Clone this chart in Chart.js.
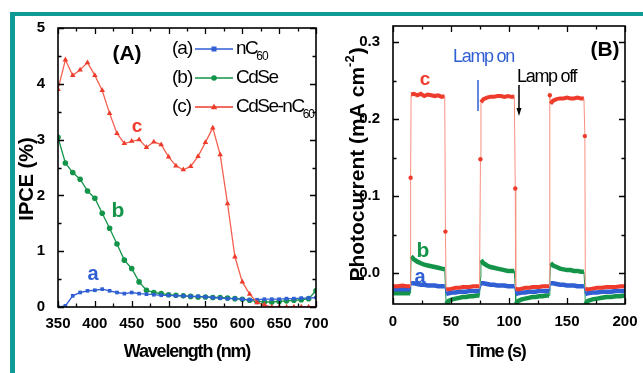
<!DOCTYPE html>
<html lang="en">
<head>
<meta charset="UTF-8">
<title>IPCE and photocurrent</title>
<script src="https://cdn.jsdelivr.net/npm/chart.js"></script>
<style>
  body { margin: 0; background: #fff; }
  .wrap { position: relative; width: 643px; height: 373px; overflow: hidden; background: #fff; }
  .frameTop { position: absolute; left: 10px; top: 12px; width: 633px; height: 4px; background: #0f9b95; }
  .frameLeft { position: absolute; left: 10px; top: 12px; width: 5px; height: 361px; background: #0f9b95; }
  #chartA { position: absolute; left: 0; top: 0; }
  #chartB { position: absolute; left: 322px; top: 0; }
</style>
</head>
<body>
<div class="wrap">
  <div class="frameTop"></div>
  <div class="frameLeft"></div>
  <canvas id="chartA" width="330" height="373"></canvas>
  <canvas id="chartB" width="321" height="373"></canvas>
</div>

<script>
// (A) IPCE vs wavelength
const wavelength = [350, 360, 370, 380, 390, 400, 410, 420, 430, 440, 450, 460,
  470, 480, 490, 500, 510, 520, 530, 540, 550, 560, 570, 580, 590, 600,
  610, 620, 630, 640, 650, 660, 670, 680, 690, 700];
const ipceA = [0.0, 0.02, 0.2, 0.26, 0.29, 0.30, 0.32, 0.29, 0.26, 0.24, 0.26, 0.24,
  0.23, 0.22, 0.21, 0.21, 0.20, 0.20, 0.19, 0.19, 0.18, 0.17, 0.16, 0.15, 0.15, 0.14,
  0.13, 0.13, 0.14, 0.14, 0.14, 0.15, 0.15, 0.16, 0.16, 0.17];
const ipceB = [3.04, 2.58, 2.41, 2.29, 2.08, 1.95, 1.68, 1.41, 1.13, 0.84, 0.69, 0.45,
  0.30, 0.26, 0.24, 0.22, 0.21, 0.20, 0.19, 0.18, 0.18, 0.17, 0.17, 0.16, 0.15, 0.14,
  0.12, 0.10, 0.09, 0.09, 0.10, 0.11, 0.12, 0.13, 0.15, 0.29];
const ipceC = [3.9, 4.43, 4.15, 4.25, 4.38, 4.15, 3.88, 3.47, 3.11, 2.93, 2.97, 3.0,
  2.86, 2.96, 2.91, 2.69, 2.53, 2.46, 2.52, 2.70, 2.95, 3.21, 2.73, 1.85, 0.90, 0.45,
  0.23, 0.08, 0.04, 0.0, 0.0, 0.0, 0.0, 0.0, 0.0, 0.0];
const wlTicks = [350, 400, 450, 500, 550, 600, 650, 700];
const ipceTicks = [0, 1, 2, 3, 4, 5];

// (B) photocurrent vs time, lamp on at 15/75/135 s, off at 45/105/165 s
const timeB = [0, 4, 8, 12, 14.8, 15.2, 15.6,
  18, 21, 24, 27, 30, 33, 36, 39, 42, 44.6, 45.2, 45.8,
  48, 51, 54, 57, 60, 63, 66, 69, 72, 74.6, 75.4, 75.8,
  78, 81, 84, 87, 90, 93, 96, 99, 102, 104.6, 105.4, 105.8,
  108, 111, 114, 117, 120, 123, 126, 129, 132, 134.6, 135.2, 135.8,
  138, 141, 144, 147, 150, 153, 156, 159, 162, 164.6, 165.4, 165.8,
  168, 172, 176, 180, 184, 188, 192, 196, 200];
const currentA = [-0.021, -0.021, -0.021, -0.021, -0.021, -0.017, -0.013,
  -0.013, -0.014, -0.015, -0.015, -0.016, -0.016, -0.016, -0.017, -0.017, -0.017, -0.022, -0.027,
  -0.026, -0.025, -0.025, -0.024, -0.024, -0.024, -0.023, -0.023, -0.023, -0.023, -0.018, -0.013,
  -0.013, -0.014, -0.015, -0.015, -0.016, -0.016, -0.016, -0.017, -0.017, -0.017, -0.022, -0.027,
  -0.026, -0.025, -0.025, -0.024, -0.024, -0.024, -0.023, -0.023, -0.023, -0.023, -0.018, -0.013,
  -0.013, -0.014, -0.015, -0.015, -0.016, -0.016, -0.016, -0.017, -0.017, -0.017, -0.022, -0.027,
  -0.026, -0.025, -0.025, -0.024, -0.024, -0.024, -0.023, -0.023, -0.023];
const currentB = [-0.026, -0.026, -0.026, -0.026, -0.026, -0.002, 0.022,
  0.018, 0.015, 0.013, 0.011, 0.010, 0.009, 0.008, 0.007, 0.006, 0.005, -0.018, -0.040,
  -0.036, -0.034, -0.033, -0.032, -0.031, -0.031, -0.030, -0.030, -0.029, -0.029, -0.006, 0.017,
  0.013, 0.010, 0.008, 0.007, 0.006, 0.005, 0.004, 0.003, 0.003, 0.003, -0.019, -0.040,
  -0.036, -0.034, -0.033, -0.032, -0.031, -0.031, -0.030, -0.030, -0.029, -0.029, -0.008, 0.013,
  0.010, 0.008, 0.006, 0.005, 0.004, 0.004, 0.003, 0.003, 0.002, 0.002, -0.019, -0.040,
  -0.036, -0.034, -0.033, -0.032, -0.031, -0.031, -0.030, -0.030, -0.029];
const currentC = [-0.017, -0.017, -0.016, -0.017, -0.017, 0.124, 0.232,
  0.233, 0.231, 0.233, 0.230, 0.232, 0.231, 0.230, 0.231, 0.229, 0.230, 0.054, -0.021,
  -0.021, -0.020, -0.019, -0.019, -0.018, -0.018, -0.018, -0.017, -0.017, -0.017, 0.148, 0.222,
  0.226, 0.228, 0.229, 0.229, 0.230, 0.230, 0.229, 0.230, 0.229, 0.229, 0.110, -0.020,
  -0.021, -0.020, -0.019, -0.019, -0.018, -0.018, -0.018, -0.017, -0.017, -0.017, 0.231, 0.220,
  0.224, 0.226, 0.227, 0.227, 0.228, 0.227, 0.227, 0.228, 0.227, 0.227, 0.178, -0.020,
  -0.021, -0.020, -0.019, -0.019, -0.018, -0.018, -0.018, -0.017, -0.017];
const timeTicks = [0, 50, 100, 150, 200];
const currentTicks = [0, 0.1, 0.2, 0.3];

const BLUE = '#2f5fd3', GREEN = '#139449', RED = '#ef3b2c', LIGHTRED = '#f7907f', LINERED = '#f4604f';
const FONT = "'Liberation Sans Narrow', 'Liberation Sans', Arial, sans-serif";

function pts(xs, ys) { return xs.map((x, i) => ({ x: x, y: ys[i] })); }

function txt(ctx, s, x, y, font, color, align, spacing) {
  ctx.save();
  ctx.font = font;
  ctx.fillStyle = color;
  ctx.textAlign = align || 'left';
  ctx.textBaseline = 'middle';
  if ('letterSpacing' in ctx) ctx.letterSpacing = (spacing || 0) + 'px';
  ctx.fillText(s, x, y);
  const w = ctx.measureText(s).width;
  ctx.restore();
  return w;
}

// box + inward major/minor ticks on all four sides
function drawFrame(chart, xMajor, yMajor) {
  const { ctx, chartArea: a, scales: { x, y } } = chart;
  ctx.save();
  ctx.strokeStyle = '#000';
  ctx.lineWidth = 1.6;
  ctx.strokeRect(a.left, a.top, a.right - a.left, a.bottom - a.top);
  ctx.lineWidth = 1.3;
  ctx.beginPath();
  for (let v = x.min; v <= x.max + 1e-9; v += xMajor / 2) {
    const len = Math.abs(Math.round(v / xMajor) * xMajor - v) < 1e-6 ? 6 : 3.5;
    const px = Math.round(x.getPixelForValue(v)) + 0.5;
    ctx.moveTo(px, a.bottom); ctx.lineTo(px, a.bottom - len);
    ctx.moveTo(px, a.top); ctx.lineTo(px, a.top + len);
  }
  const y0 = Math.ceil(y.min / (yMajor / 2) - 1e-6) * (yMajor / 2);
  for (let v = y0; v <= y.max + 1e-9; v += yMajor / 2) {
    const len = Math.abs(Math.round(v / yMajor) * yMajor - v) < 1e-6 ? 6 : 3.5;
    const py = Math.round(y.getPixelForValue(v)) + 0.5;
    ctx.moveTo(a.left, py); ctx.lineTo(a.left + len, py);
    ctx.moveTo(a.right, py); ctx.lineTo(a.right - len, py);
  }
  ctx.stroke();
  ctx.restore();
}

function drawMarker(ctx, style, x, y, color) {
  ctx.save();
  ctx.fillStyle = color;
  ctx.beginPath();
  if (style === 'rect') ctx.rect(x - 2.5, y - 2.5, 5, 5);
  else if (style === 'circle') ctx.arc(x, y, 2.8, 0, Math.PI * 2);
  else { ctx.moveTo(x, y - 3.5); ctx.lineTo(x + 3.2, y + 2.3); ctx.lineTo(x - 3.2, y + 2.3); ctx.closePath(); }
  ctx.fill();
  ctx.restore();
}

function fixTicks(list) {
  return function (scale) { scale.ticks = list.map(v => ({ value: v })); };
}

const tickFont = { family: FONT, size: 15, weight: 'bold' };

// ---------- chart A ----------
const annotA = {
  id: 'annotA',
  afterDraw(chart) {
    const ctx = chart.ctx;
    drawFrame(chart, 50, 1);
    txt(ctx, '(A)', 127, 54, 'bold 21px ' + FONT, '#000', 'center');
    const rows = [
      ['(a)', 'nC', '60', BLUE, 'rect', 49],
      ['(b)', 'CdSe', '', GREEN, 'circle', 78],
      ['(c)', 'CdSe-nC', '60', RED, 'triangle', 107]
    ];
    rows.forEach(r => {
      txt(ctx, r[0], 172, r[5], '19px ' + FONT, '#000', 'left', -1);
      ctx.save();
      ctx.strokeStyle = r[3]; ctx.lineWidth = 1.3;
      ctx.beginPath(); ctx.moveTo(195, r[5]); ctx.lineTo(233, r[5]); ctx.stroke();
      ctx.restore();
      drawMarker(ctx, r[4], 214, r[5], r[3]);
      const w = txt(ctx, r[1], 236, r[5], '19px ' + FONT, '#000', 'left', -1.5);
      if (r[2]) txt(ctx, r[2], 236 + w - 1, r[5] + 8, '12px ' + FONT, '#000', 'left', -1);
    });
    txt(ctx, 'c', 137, 127, 'bold 19px ' + FONT, RED, 'center');
    txt(ctx, 'b', 118, 211, 'bold 21px ' + FONT, GREEN, 'center');
    txt(ctx, 'a', 93, 274, 'bold 20px ' + FONT, BLUE, 'center');
    ctx.save();
    ctx.translate(27, 179);
    ctx.rotate(-Math.PI / 2);
    txt(ctx, 'IPCE (%)', 0, 0, 'bold 20px ' + FONT, '#000', 'center');
    ctx.restore();
    txt(ctx, 'Wavelength (nm)', 187, 352, 'bold 18px ' + FONT, '#000', 'center', -1.2);
  }
};

new Chart(document.getElementById('chartA'), {
  type: 'line',
  data: {
    datasets: [
      { label: 'CdSe-nC60', data: pts(wavelength, ipceC), borderColor: LINERED, backgroundColor: RED,
        pointStyle: 'triangle', pointRadius: 3.2, pointBorderWidth: 0, borderWidth: 1.3 },
      { label: 'nC60', data: pts(wavelength, ipceA), borderColor: BLUE, backgroundColor: BLUE,
        pointStyle: 'rect', pointRadius: 2.6, pointBorderWidth: 0, borderWidth: 1.3 },
      { label: 'CdSe', data: pts(wavelength, ipceB), borderColor: GREEN, backgroundColor: GREEN,
        pointStyle: 'circle', pointRadius: 2.8, pointBorderWidth: 0, borderWidth: 1.3 }
    ]
  },
  options: {
    responsive: false,
    animation: false,
    layout: { padding: { left: 0, top: 28, right: 14, bottom: 0 } },
    plugins: { legend: { display: false }, tooltip: { enabled: false } },
    scales: {
      x: {
        type: 'linear', min: 350, max: 700,
        afterBuildTicks: fixTicks(wlTicks),
        afterFit: s => { s.height = 66; },
        grid: { display: false }, border: { display: false },
        ticks: { font: tickFont, color: '#000', padding: 0 }
      },
      y: {
        min: 0, max: 5,
        afterBuildTicks: fixTicks(ipceTicks),
        afterFit: s => { s.width = 58; },
        grid: { display: false }, border: { display: false },
        ticks: { font: tickFont, color: '#000', padding: 5 }
      }
    }
  },
  plugins: [annotA]
});

// ---------- chart B ----------
const OX = 322; // canvas B left offset
const annotB = {
  id: 'annotB',
  afterDraw(chart) {
    const ctx = chart.ctx;
    drawFrame(chart, 50, 0.1);
    txt(ctx, '(B)', 605 - OX, 50, 'bold 21px ' + FONT, '#000', 'center');
    txt(ctx, 'c', 425 - OX, 80, 'bold 19px ' + FONT, RED, 'center');
    txt(ctx, 'Lamp on', 453 - OX, 57, '18px ' + FONT, BLUE, 'left', -1.3);
    txt(ctx, 'Lamp off', 517 - OX, 77, '18px ' + FONT, '#000', 'left', -1.3);
    ctx.save();
    ctx.lineWidth = 1.5;
    ctx.strokeStyle = BLUE;
    ctx.beginPath(); ctx.moveTo(478 - OX, 80); ctx.lineTo(478 - OX, 111); ctx.stroke();
    ctx.strokeStyle = '#000';
    ctx.beginPath(); ctx.moveTo(519 - OX, 85); ctx.lineTo(519 - OX, 113); ctx.stroke();
    ctx.fillStyle = '#000';
    ctx.beginPath(); ctx.moveTo(519 - OX, 116); ctx.lineTo(516.5 - OX, 108); ctx.lineTo(521.5 - OX, 108); ctx.closePath(); ctx.fill();
    ctx.restore();
    txt(ctx, 'b', 423 - OX, 251, 'bold 21px ' + FONT, GREEN, 'center');
    txt(ctx, 'a', 420 - OX, 277, 'bold 20px ' + FONT, BLUE, 'center');
    // rotated y title with superscript
    ctx.save();
    ctx.translate(358 - OX, 165);
    ctx.rotate(-Math.PI / 2);
    ctx.font = 'bold 21px ' + FONT;
    const p1 = 'Photocurrent (mA cm', p2 = '-2', p3 = ')';
    const w1 = ctx.measureText(p1).width;
    ctx.font = 'bold 13px ' + FONT;
    const w2 = ctx.measureText(p2).width;
    ctx.font = 'bold 21px ' + FONT;
    const w3 = ctx.measureText(p3).width;
    let sx = -(w1 + w2 + w3) / 2;
    txt(ctx, p1, sx, 0, 'bold 21px ' + FONT, '#000', 'left');
    txt(ctx, p2, sx + w1, -8, 'bold 13px ' + FONT, '#000', 'left');
    txt(ctx, p3, sx + w1 + w2 + 1, 0, 'bold 21px ' + FONT, '#000', 'left');
    ctx.restore();
    txt(ctx, 'Time (s)', 496 - OX, 352, 'bold 18px ' + FONT, '#000', 'center', -1.2);
  }
};

// thin lines for the on/off jumps, thick for the measured traces
function jumpWidth(thick) {
  return c => (c.p1.parsed.x - c.p0.parsed.x < 1 ? 1 : thick);
}
function midRadius(c) {
  const i = c.dataIndex;
  if (i <= 0 || i >= timeB.length - 1) return 0;
  return (timeB[i] - timeB[i - 1] < 1 && timeB[i + 1] - timeB[i] < 1) ? 2.2 : 0;
}

new Chart(document.getElementById('chartB'), {
  type: 'line',
  data: {
    datasets: [
      { label: 'c', data: pts(timeB, currentC), borderColor: RED, backgroundColor: RED,
        pointRadius: midRadius, pointBorderWidth: 0, borderWidth: 4,
        segment: { borderWidth: jumpWidth(4), borderColor: c => (c.p1.parsed.x - c.p0.parsed.x < 1 ? LIGHTRED : RED) } },
      { label: 'a', data: pts(timeB, currentA), borderColor: BLUE, pointRadius: 0, borderWidth: 4.5,
        segment: { borderWidth: jumpWidth(4.5) } },
      { label: 'b', data: pts(timeB, currentB), borderColor: GREEN, pointRadius: 0, borderWidth: 4.5,
        segment: { borderWidth: jumpWidth(4.5) } }
    ]
  },
  options: {
    responsive: false,
    animation: false,
    layout: { padding: { left: 0, top: 26, right: 18, bottom: 0 } },
    plugins: { legend: { display: false }, tooltip: { enabled: false } },
    scales: {
      x: {
        type: 'linear', min: 0, max: 200,
        afterBuildTicks: fixTicks(timeTicks),
        afterFit: s => { s.height = 69; },
        grid: { display: false }, border: { display: false },
        ticks: { font: tickFont, color: '#000', padding: 1 }
      },
      y: {
        min: -0.04, max: 0.321,
        afterBuildTicks: fixTicks(currentTicks),
        afterFit: s => { s.width = 71; },
        grid: { display: false }, border: { display: false },
        ticks: { font: tickFont, color: '#000', padding: 5, callback: v => v.toFixed(1) }
      }
    }
  },
  plugins: [annotB]
});
</script>
</body>
</html>
